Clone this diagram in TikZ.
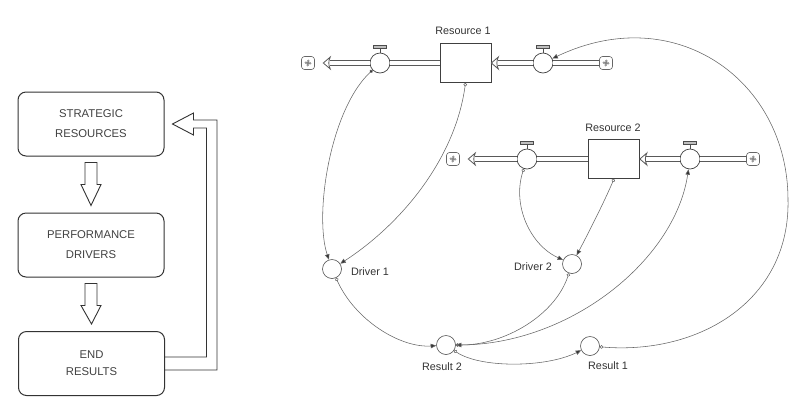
\documentclass[tikz,border=0pt]{standalone}
\usepackage{fontspec}
\setmainfont{Liberation Sans}
\usetikzlibrary{arrows.meta,calc}

\tikzset{
  block/.style={draw=black!80, line width=1pt, rounded corners=8pt, minimum width=146pt, minimum height=64pt, align=center, text=black!75, font=\fontsize{11.3}{20}\selectfont},
  hollow/.style={draw=black!80, line width=0.9pt},
  stock/.style={draw=black!75, line width=0.7pt, minimum width=51pt, minimum height=39pt, inner sep=0pt},
  valve/.style={circle, draw=black!75, line width=0.7pt, minimum size=20pt, inner sep=0pt},
  aux/.style={circle, draw=black!70, line width=0.6pt, minimum size=19pt, inner sep=0pt},
  sink/.style={draw=black!60, line width=0.6pt, rounded corners=3pt, minimum size=13pt, inner sep=0pt,
    path picture={\foreach \a in {45,135,225,315}
      \draw[black!60, line width=0.5pt] (path picture bounding box.center) .. controls +(\a:5pt) and +(\a+70:5pt) .. (path picture bounding box.center);}},
  lab/.style={text=black!80, font=\fontsize{10.8}{12}\selectfont},
  flowpipe/.style={draw=black!65, line width=5.6pt, postaction={draw=white, line width=3.8pt}},
  info/.style={draw=black!60, line width=0.55pt, {Circle[open,length=3.5pt]}-{Triangle[length=5.5pt,width=4.5pt,fill=black!80]}},
  infodot/.style={draw=black!60, line width=0.55pt, {Circle[length=3.5pt,fill=black!80]}-{Triangle[length=5.5pt,width=4.5pt,fill=black!80]}},
  flowhead/.pic={\draw[draw=black!65, fill=white, line width=0.8pt] (0,0) -- (7,-6) .. controls (5,-2) and (5,2) .. (7,6) -- cycle;}
}

\begin{document}
\begin{tikzpicture}[x=1pt,y=-1pt]
  \useasboundingbox (0,0) rectangle (810,416);

  % left: the three blocks
  \node[block] (b1) at (91,124) {STRATEGIC\\RESOURCES};
  \node[block] (b2) at (91,245) {PERFORMANCE\\DRIVERS};
  \node[block, font=\fontsize{11.3}{17}\selectfont] (b3) at (91.5,363.5) {END\\RESULTS};
  \foreach \a/\b in {b1/b2,b2/b3}
    \draw[hollow] ($(\a.south)+(-6,6)$) -- ++(0,22) -- ++(-4,0) -- ($(\b.north)+(0,-7)$)
      -- ($(\a.south)+(10,28)$) -- ++(-4,0) -- ++(0,-22) -- cycle;
  \draw[hollow] ($(b3.east)+(0,6.5)$) -- ++(52,0) |- ($(b1.east)+(29,-4)$) -- ++(0,-7)
    -- ($(b1.east)+(8,0)$) -- ++(21,11) -- ++(0,-7) -- ++(13,0) |- ($(b3.east)+(0,-6.5)$);

  % resource 1
  \node[stock] (s1) at (465.5,63) {};
  \node[lab] (l1) at (463,31) {Resource 1};
  \node[valve] (v1o) at (380,63) {};
  \node[valve] (v1i) at (543,63) {};
  \node[sink] (c1l) at (308,63) {};
  \node[sink] (c1r) at (606,63) {};
  \draw[flowpipe] (s1.west) -- (v1o.east);
  \draw[flowpipe] (v1o.west) -- ($(c1l.east)+(15,0)$);
  \pic at ($(c1l.east)+(8.5,0)$) {flowhead};
  \draw[flowpipe] (c1r.west) -- (v1i.east);
  \draw[flowpipe] (v1i.west) -- ($(s1.east)+(6.5,0)$);
  \pic at (s1.east) {flowhead};

  % resource 2
  \node[stock] (s2) at (614,159) {};
  \node[lab] (l2) at (613,128) {Resource 2};
  \node[valve] (v2o) at (527,159) {};
  \node[valve] (v2i) at (690,159) {};
  \node[sink] (c2l) at (453,159) {};
  \node[sink] (c2r) at (753,159) {};
  \draw[flowpipe] (s2.west) -- (v2o.east);
  \draw[flowpipe] (v2o.west) -- ($(c2l.east)+(15,0)$);
  \pic at ($(c2l.east)+(8.5,0)$) {flowhead};
  \draw[flowpipe] (c2r.west) -- (v2i.east);
  \draw[flowpipe] (v2i.west) -- ($(s2.east)+(6.5,0)$);
  \pic at (s2.east) {flowhead};

  % valve handles
  \foreach \v in {v1o,v1i,v2o,v2i} {
    \draw[black!70, line width=0.7pt] (\v.north) -- ++(0,-5);
    \draw[black!70, fill=black!25, line width=0.6pt] ($(\v.north)+(-6.5,-4.5)$) rectangle ++(13,-3);
  }

  % drivers and results
  \node[aux] (d1) at (332,269) {};
  \node[lab] (ld1) at (370,272) {Driver 1};
  \node[aux] (d2) at (572,264) {};
  \node[lab] (ld2) at (533,267) {Driver 2};
  \node[aux] (r2) at (446,345) {};
  \node[lab] (lr2) at (442,367) {Result 2};
  \node[aux] (r1) at (590,346) {};
  \node[lab] (lr1) at (608,366) {Result 1};
  \coordinate (loop) at (788,200);

  % links
  \draw[infodot] (v1o) .. controls (330,110) and (314,215) .. (d1);
  \draw[info] (s1.south) .. controls (455,160) and (400,225) .. (d1);
  \draw[info] (v2o) .. controls (512,205) and (530,245) .. (d2);
  \draw[info] (s2.south) .. controls (605,200) and (590,230) .. (d2);
  \draw[info] (d1) .. controls (355,320) and (400,348) .. (r2);
  \draw[info] (d2) .. controls (555,315) and (505,345) .. (r2);
  \draw[info] (r2) .. controls (570,345) and (675,260) .. (v2i);
  \draw[info] (r2) .. controls (480,368) and (545,368) .. (r1);
  \draw[info] (r1) .. controls (700,355) and (790,300) .. (loop) .. controls (788,80) and (675,0) .. (v1i);
\end{tikzpicture}
\end{document}
